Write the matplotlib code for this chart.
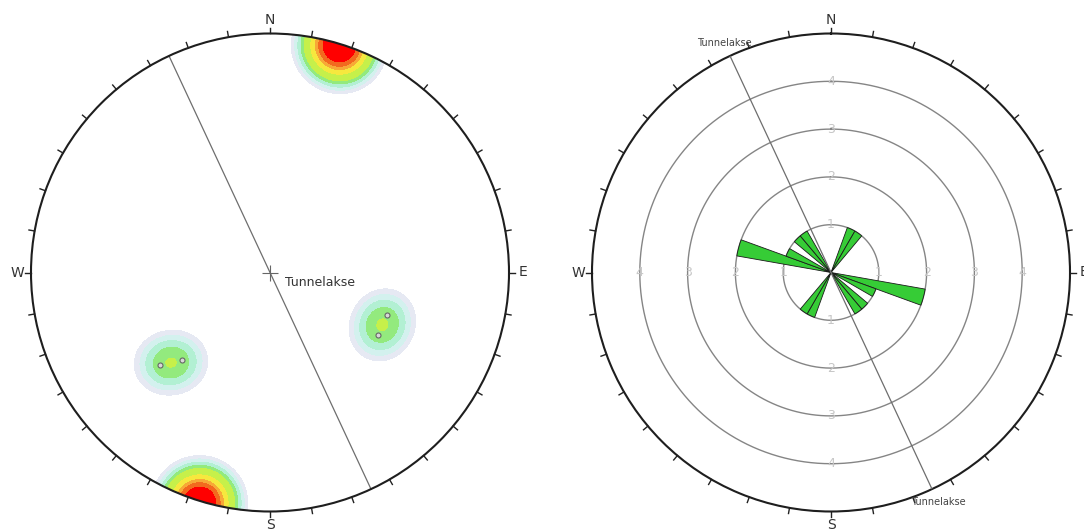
import numpy as np
import matplotlib.pyplot as plt
from matplotlib.patches import Circle

# poles (trend, plunge) that are drawn with markers
steep_trend = [230, 225, 110, 120]
steep_plunge = [28, 35, 35, 35]
# sub-horizontal poles near the primitive (only seen in the density)
flat_trend = [15, 17, 18, 16, 19, 197]
flat_plunge = [1, 0, 2, 0, 1, 1]

tunnel_trend = 335

# rose diagram, 10 degree bins (start angle, count), mirrored 180 deg
rose_start = [20, 30, 280, 290, 310, 320]
rose_count = [1, 1, 2, 1, 1, 1]
ring_values = [1, 2, 3, 4]
rose_max = 5

contour_levels = [0.6, 0.82, 1.07, 1.38, 1.72, 2.6, 3.3, 3.8, 4.45]
contour_colors = ['#e6e9f3', '#d3f1ee', '#b2f0d3', '#93ea7e', '#c6f04a',
                  '#f6e83e', '#f7a937', '#f26a1f', '#ff0000']

cardinals = ['N', 'E', 'S', 'W']


def project(trend, plunge):
    # equal angle, lower hemisphere, primitive radius 1
    t = np.radians(np.asarray(trend, dtype=float))
    c = np.radians(90 - np.asarray(plunge, dtype=float))
    r = np.tan(c / 2)
    return r * np.sin(t), r * np.cos(t)


W, H = 1084, 531
fig = plt.figure(figsize=(W / 100, H / 100), dpi=100)
fig.patch.set_facecolor('white')

# ---------------- left: pole density plot ----------------
R = 239.0
lim = 1.05
half = lim * R
cx, cy = 270, 272.5
ax1 = fig.add_axes([(cx - half) / W, (H - cy - half) / H, 2 * half / W, 2 * half / H])
ax1.set_xlim(-lim, lim)
ax1.set_ylim(-lim, lim)
ax1.set_aspect('equal')
ax1.axis('off')

all_t = np.array(steep_trend + flat_trend, dtype=float)
all_p = np.array(steep_plunge + flat_plunge, dtype=float)
x1, y1 = project(all_t, all_p)
x2, y2 = project(all_t + 180, -all_p)
px = np.concatenate([x1, x2])
py = np.concatenate([y1, y2])

g = np.linspace(-1.02, 1.02, 500)
X, Y = np.meshgrid(g, g)
sig = 22 / R
D = np.zeros_like(X)
for a, b in zip(px, py):
    D += np.exp(-((X - a) ** 2 + (Y - b) ** 2) / (2 * sig ** 2))

prim = Circle((0, 0), 1, transform=ax1.transData)
cs = ax1.contourf(X, Y, D, levels=contour_levels + [1000], colors=contour_colors)
cs.set_clip_path(prim)

ax1.add_patch(Circle((0, 0), 1, fill=False, lw=1.5, color='#1e1e1e', zorder=5))
for a in range(0, 360, 10):
    t = np.radians(a)
    ax1.plot([np.sin(t), 1.024 * np.sin(t)], [np.cos(t), 1.024 * np.cos(t)],
             color='#222222', lw=1.0, zorder=5, clip_on=False)
for i, lab in enumerate(cardinals):
    t = np.radians(90 * i)
    ax1.text(1.058 * np.sin(t), 1.058 * np.cos(t), lab, ha='center', va='center',
             fontsize=10, color='#333333')

tt = np.radians(tunnel_trend)
ax1.plot([np.sin(tt), -np.sin(tt)], [np.cos(tt), -np.cos(tt)], color='#6e6e6e', lw=0.9, zorder=4)
ax1.plot(0, 0, marker='+', ms=11, mew=0.8, color='#666666', zorder=6)
ax1.text(0.062, -0.04, 'Tunnelakse', ha='left', va='center', fontsize=9, color='#333333')

sx, sy = project(steep_trend, steep_plunge)
ax1.plot(sx, sy, 'o', ms=3.6, mfc='#d8d8d8', mec='#666666', mew=0.8, ls='none', zorder=7)

# ---------------- right: rose diagram ----------------
cx2 = 831
ax2 = fig.add_axes([(cx2 - R) / W, (H - cy - R) / H, 2 * R / W, 2 * R / H], projection='polar')
ax2.set_theta_zero_location('N')
ax2.set_theta_direction(-1)
ax2.set_ylim(0, rose_max)
ax2.set_xticks([])
ax2.set_yticks([])
ax2.grid(False)
ax2.spines['polar'].set_linewidth(1.5)
ax2.spines['polar'].set_color('#1e1e1e')

full = np.linspace(0, 2 * np.pi, 361)
for r in ring_values:
    ax2.plot(full, np.full_like(full, r), color='#858585', lw=1.0, zorder=1)
    for a in [0, 90, 180, 270]:
        ax2.text(np.radians(a), r, str(r), ha='center', va='center', fontsize=9,
                 color='#c6c6c6', zorder=2)

theta = np.radians(np.array(rose_start + [s + 180 for s in rose_start]) + 5)
counts = rose_count + rose_count
ax2.bar(theta, counts, width=np.radians(10), bottom=0, color='#36cc36',
        edgecolor='#1a1a1a', lw=0.6, zorder=3)

ax2.plot([tt, tt], [rose_max, 0], color='#6e6e6e', lw=0.9, zorder=4)
ax2.plot([tt + np.pi, tt + np.pi], [0, rose_max], color='#6e6e6e', lw=0.9, zorder=4)
ax2.text(tt, rose_max * 1.06, 'Tunnelakse', ha='center', va='center', fontsize=7, color='#444444')
ax2.text(tt + np.pi, rose_max * 1.06, 'Tunnelakse', ha='center', va='center', fontsize=7,
         color='#444444')

for a in range(0, 360, 10):
    t = np.radians(a)
    ax2.plot([t, t], [rose_max, rose_max * 1.024], color='#222222', lw=1.0, clip_on=False)
for i, lab in enumerate(cardinals):
    ax2.text(np.radians(90 * i), rose_max * 1.058, lab, ha='center', va='center',
             fontsize=10, color='#333333')

fig.savefig('out.png', dpi=100, facecolor='white')
